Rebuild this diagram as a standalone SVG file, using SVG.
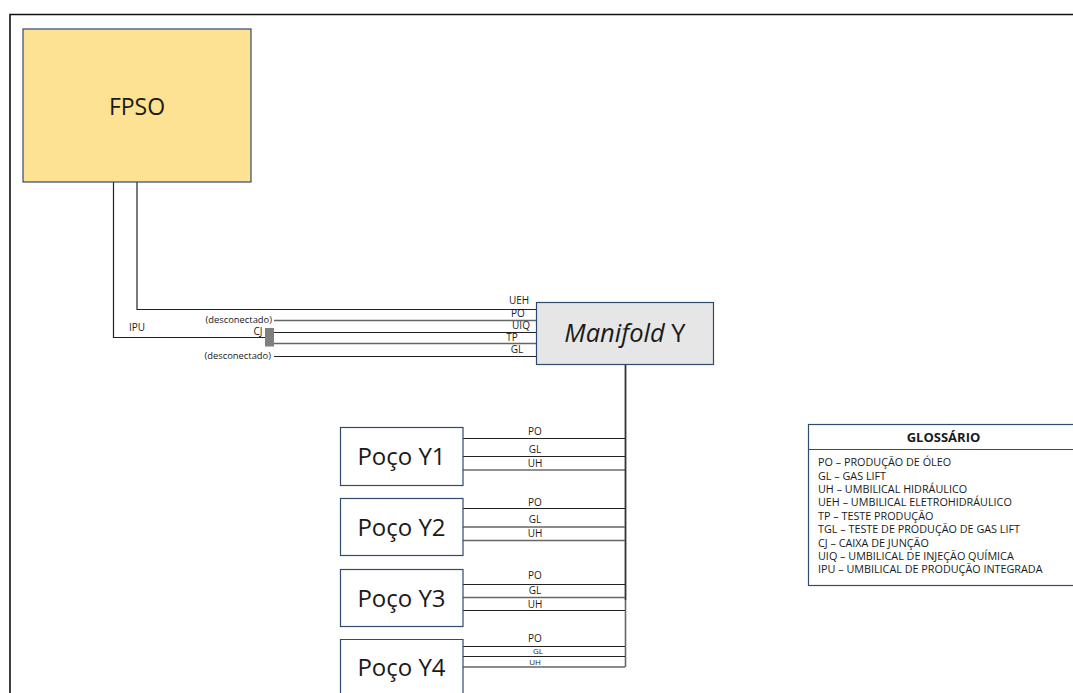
<svg xmlns="http://www.w3.org/2000/svg" width="1073" height="693" viewBox="0 0 1073 693">
<style>
text{font-family:"Open Sans","Noto Sans","Liberation Sans",sans-serif;fill:#1a1a1a}
.box{stroke:#2f4b70;stroke-width:1.2}
.l{fill:none;stroke:#222;stroke-width:1.2}
.g{fill:none;stroke:#666;stroke-width:1.6}
.s{font-size:10px;text-anchor:middle}
.t{font-size:8px;text-anchor:middle}
.d{font-size:9.400px;text-anchor:end}
.big{font-size:24px;text-anchor:middle}
.gl{font-size:10.800px}
</style>
<rect width="1073" height="693" fill="#fff"/>
<path d="M10 693V14.500H1073" fill="none" stroke="#111" stroke-width="1.600"/>
<g id="connectors">
<path class="l" d="M137 182V309.500H536"/>
<path class="l" d="M113.500 182V337.500H265"/>
<path class="g" d="M274 320.500H536"/>
<path class="l" d="M274 332.500H536"/>
<path class="g" d="M274 343.500H536"/>
<path class="l" d="M274 356.500H536"/>
<path d="M625.500 365V600" fill="none" stroke="#333" stroke-width="1.800"/>
<path class="g" d="M625.500 600V667"/>
<path class="l" d="M463 438.500H625M463 456.500H625M463 470H625"/>
<path class="l" d="M463 508.500H625"/>
<path class="g" d="M463 527H625M463 540.500H625"/>
<path class="l" d="M463 584.500H625"/>
<path class="g" d="M463 597.500H625"/>
<path class="l" d="M463 610.500H625M463 646.500H625M463 656.500H625"/>
<path class="g" d="M463 667H625"/>
</g>
<g id="fpso"><rect class="box" x="23" y="29" width="228" height="153" fill="#fde293"/><text x="137" y="115" style="font-size:23px;text-anchor:middle">FPSO</text></g>
<g id="cj"><rect x="265" y="328" width="9" height="18.500" fill="#7f7f7f"/><text class="s" x="258" y="335">CJ</text></g>
<g id="manifold"><rect class="box" x="536.500" y="302.500" width="177" height="62" fill="#e6e6e6"/><text x="625" y="342" style="font-size:25.500px;text-anchor:middle"><tspan font-style="italic">Manifold</tspan> Y</text></g>
<g id="poco-y1"><rect class="box" x="340.500" y="427.500" width="122.500" height="58" fill="#fff"/><text class="big" x="401.500" y="465">Poço Y1</text></g>
<g id="poco-y2"><rect class="box" x="340.500" y="498.500" width="122.500" height="57" fill="#fff"/><text class="big" x="401.500" y="536">Poço Y2</text></g>
<g id="poco-y3"><rect class="box" x="340.500" y="569.500" width="122.500" height="57" fill="#fff"/><text class="big" x="401.500" y="607">Poço Y3</text></g>
<g id="poco-y4"><path class="box" d="M340.500 693V639.500H463V693" fill="#fff"/><text class="big" x="401.500" y="676">Poço Y4</text></g>
<g id="labels">
<text class="s" x="519" y="304">UEH</text><text class="s" x="518" y="317">PO</text><text class="s" x="521" y="329">UIQ</text><text class="s" x="512" y="341">TP</text><text class="s" x="517" y="353">GL</text>
<text class="s" x="137" y="331">IPU</text>
<text class="d" x="272" y="323">(desconectado)</text><text class="d" x="271" y="359">(desconectado)</text>
<text class="s" x="535" y="435">PO</text><text class="s" x="535" y="452.500">GL</text><text class="s" x="535" y="467">UH</text>
<text class="s" x="535" y="506">PO</text><text class="s" x="535" y="522.500">GL</text><text class="s" x="535" y="537">UH</text>
<text class="s" x="535" y="579">PO</text><text class="s" x="535" y="594">GL</text><text class="s" x="535" y="608">UH</text>
<text class="s" x="535" y="641.500">PO</text><text class="t" x="538" y="654">GL</text><text class="t" x="535" y="665">UH</text>
</g>
<g id="glossario">
<rect class="box" x="808.500" y="424.500" width="270" height="161" fill="#fff"/>
<path class="box" d="M808.500 449.500H1073" fill="none"/>
<text x="943.500" y="442" style="font-size:13px;font-weight:700;text-anchor:middle">GLOSSÁRIO</text>
<text class="gl" x="818" y="466">PO – PRODUÇÃO DE ÓLEO</text>
<text class="gl" x="818" y="479.500">GL – GAS LIFT</text>
<text class="gl" x="818" y="492.500">UH – UMBILICAL HIDRÁULICO</text>
<text class="gl" x="818" y="506">UEH – UMBILICAL ELETROHIDRÁULICO</text>
<text class="gl" x="818" y="519.500">TP – TESTE PRODUÇÃO</text>
<text class="gl" x="818" y="533">TGL – TESTE DE PRODUÇÃO DE GAS LIFT</text>
<text class="gl" x="818" y="546.500">CJ – CAIXA DE JUNÇÃO</text>
<text class="gl" x="818" y="559.500">UIQ – UMBILICAL DE INJEÇÃO QUÍMICA</text>
<text class="gl" x="818" y="573">IPU – UMBILICAL DE PRODUÇÃO INTEGRADA</text>
</g>
</svg>
